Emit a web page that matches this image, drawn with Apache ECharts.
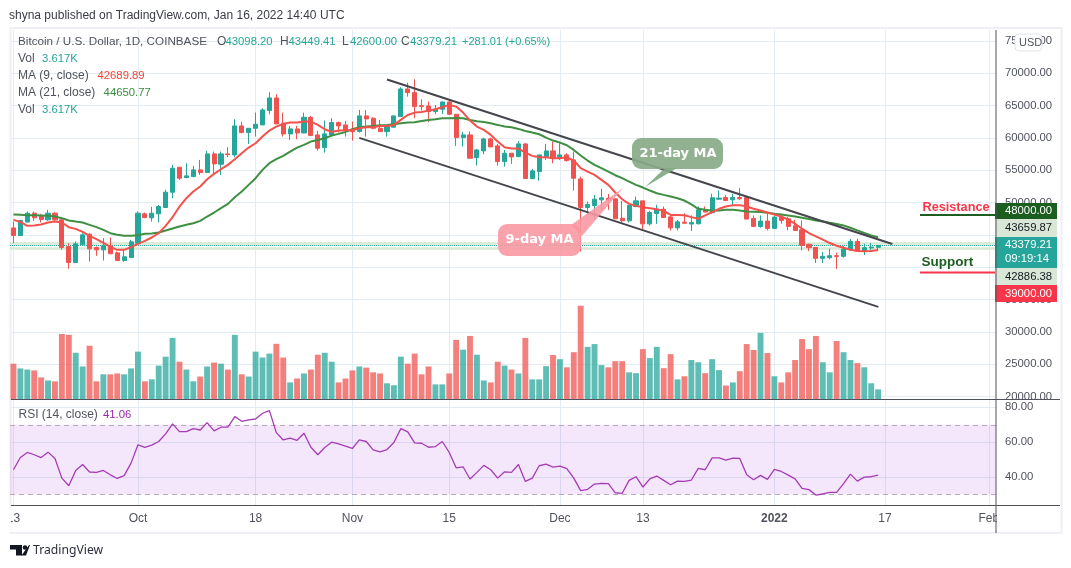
<!DOCTYPE html>
<html><head><meta charset="utf-8"><style>html,body{margin:0;padding:0;background:#fff}#c{width:1071px;height:568px}</style>
<script src="https://cdn.jsdelivr.net/npm/echarts@6/dist/echarts.min.js"></script></head><body><div id="c"></div><script>
const tickIdx=[0,18,35,49,63,79,91,110,126,141];
const tickText=['13','Oct','18','Nov','15','Dec','13','2022','17','Feb'];
const priceTicks=[20000,25000,30000,35000,40000,45000,50000,55000,60000,65000,70000,75000];
const rsiTicks=[40,60,80];
const opens=[46100,44920,47000,48370,47960,47340,48370,47340,43220,40750,43480,45125,43060,42700,43320,42240,41060,41520,
43735,48270,47650,48270,49250,51615,55475,53880,54035,55065,54650,57535,55940,57535,57380,61860,60830,61500,62020,64230,66190,62275,60630,61400,60780,63200,60470,58515,60470,62380,62020,
61350,60990,63410,63050,61500,60990,61660,63305,67580,67010,65000,64950,64080,64440,65570,63665,60060,60470,56970,58000,59855,58775,56350,57640,57125,59080,53730,54810,57125,58000,
56970,57380,56610,53675,49245,49555,50430,50690,50585,47600,47185,49400,50275,46720,48320,48990,47800,46105,46980,46700,46740,48900,48435,50540,50800,50440,50800,50800,47560,46325,47150,
46020,47765,47510,46430,45815,43550,43090,41390,41500,41800,41700,42730,44015,42525,42985,43098.2];
const closes=[44920,47240,48370,47650,47390,48370,47340,43060,40750,43630,45020,42860,42700,43320,42090,41060,41625,43940,
48370,47700,48370,49400,51615,55320,53780,54140,55065,54650,57535,55990,57535,57430,61860,60830,61500,62120,64335,66190,62170,60630,61400,60780,63200,60370,58410,60630,62380,61860,61245,
60990,63410,62945,61500,60990,61760,63410,67580,67010,64850,64850,64080,64440,65570,63665,60060,60470,56870,58155,59855,58620,56350,57640,57075,59080,53730,54910,57380,58000,56865,
57380,56505,53780,49245,49710,50535,50740,50430,47495,47185,49555,50275,46720,48475,48990,47700,46105,47030,46820,46950,48900,48540,50750,50700,50335,50800,50590,47460,46325,47150,46020,
47765,47250,46325,45710,43400,43040,41390,41700,41800,41700,42830,44015,42525,43040,43140,43379.21];
const highs=[47080,47340,48630,48630,48270,48885,48525,47495,43735,43990,45280,45280,43220,44510,44610,42450,42700,44250,
48630,48470,49350,49660,51975,55840,55475,56095,55680,56610,58000,57900,57900,58570,62890,62530,61500,63920,64590,67065,66755,63920,61860,61860,63920,63410,61090,62690,63050,62530,62635,
62530,64335,64335,63200,62790,62020,63410,67840,68560,69075,65980,65620,65110,65620,65980,63665,60935,60990,58310,60060,60060,59080,58155,57640,59495,59185,55220,57380,59080,59440,
59185,57640,57900,54035,50170,51200,52130,51355,50690,50275,49660,50945,50275,48730,49660,49400,48010,47340,48370,48020,49410,49410,51365,51880,51210,51365,52240,50955,48020,48020,48540,
48020,48125,47765,47355,47250,43655,43140,42370,42885,42270,43295,44375,44425,43655,43760,43449.41];
const lows=[43735,44920,46930,47190,46930,47190,47080,42700,39770,40750,43375,40900,41780,41060,42090,41060,40850,41420,
43630,47600,47080,46930,49250,50690,53520,53780,53930,54290,54650,54290,54290,57020,57020,60730,59080,60215,62020,63665,62170,60215,59700,59800,60730,60370,58050,57740,60370,60830,60215,
59600,60830,60215,61350,60990,60215,61660,63305,66395,63050,64230,62430,63665,63720,63560,58775,58670,56870,55735,57485,58620,55735,55580,55990,57020,53730,53620,53420,56610,56095,
56610,56350,51870,42450,48060,47440,48885,48885,47495,46930,46930,49300,45900,46465,46720,47700,45690,45690,46720,45610,46635,48540,48280,50440,50230,49410,50440,47460,46225,46120,45710,
46020,46740,45710,45610,42625,42525,40670,40670,41240,39750,41495,42525,42370,41905,42625,42600];
const ma9=[47340,47030,46415,46465,46620,46930,47080,46930,46210,45950,45485,44870,44350,43790,43170,42705,42705,43115,
43630,44095,44610,45280,46415,47750,49400,50690,51715,52490,53620,54450,55170,55840,56715,57640,58515,59185,60215,61140,61760,62170,62380,62380,62530,62530,62020,61350,60935,61140,61190,
61245,61500,61660,61660,61865,61865,62020,62790,63560,63920,64025,64230,64440,64750,65110,64850,63920,62690,61760,61245,60475,59440,58570,58360,58360,57745,57230,57020,57020,56870,
56870,57020,56510,55330,54810,54290,53520,52750,51565,50530,49810,49500,49300,49145,48990,48730,48110,48110,48060,47765,47510,48025,48540,49050,49410,49615,49615,49410,49050,48795,48485,
48180,47870,47355,46740,45970,45300,44785,44270,43755,43345,43040,42730,42525,42470,42525,42689.89];
const ma21=[48165,48115,48060,48060,48010,47960,47855,47600,47235,47080,46930,46570,46210,45795,45280,45025,44870,44870,
44970,45180,45230,45385,45690,46000,46310,46570,46825,47185,47855,48475,49140,49810,50840,51715,52750,53780,55065,56095,56715,57230,57900,58515,58930,59445,59700,59960,60370,60630,60935,
61350,61660,61760,61865,61965,62020,62120,62275,62380,62430,62635,62790,62890,63050,63050,63100,63050,62790,62585,62480,62275,62020,61760,61660,61400,61090,60835,60575,60060,59600,
59290,58875,58155,57280,56510,55840,55330,54810,54240,53780,53265,52750,52335,51870,51460,51200,50945,50690,50330,49720,49050,48900,48740,48795,48900,48900,48795,48640,48590,48540,48435,
48280,48180,48025,47870,47665,47460,47250,47100,46890,46690,46480,46120,45710,45300,44940,44650.77];
const volumes=[12.8,11.1,10.7,10.4,7.9,6.8,6.5,23.4,23.1,16.7,11.8,19.2,6.5,9,9,9.3,9,11.1,
17.1,6.5,7.2,12.1,15.3,22,13.5,10.7,6.5,8.2,11.8,13.2,12.8,10.7,23.1,9,8.2,17.1,15,16.4,19.9,15,6.1,7.5,9.3,10.7,16,16.7,13.5,6.1,7.5,
10.4,11.8,11.4,9.7,9.3,5.8,5.1,15.3,12.8,16.4,9,11.8,5.4,5.4,9.3,21.3,17.8,22.7,16,6.8,6.1,13.5,12.1,10.7,9.3,22,7.2,7.2,11.9,15.9,
14.4,11.5,16.9,33.5,18.8,19.8,12.3,11.5,13.7,13.7,9.7,9.4,18,14.8,18.8,11.2,16.2,7.2,8.3,14.1,13.3,9.4,14.4,10.5,5,6.1,10.1,19.8,17.7,23.8,16.6,
8.3,6.1,9.7,14.1,21.6,18,22.7,13.3,9.7,20.9,16.9,14.1,13,11.5,5.8,3.617];
const rsi=[44.2,51.2,54.1,52.8,51.2,54.3,50.7,39.4,35,43.8,47.2,42.9,42.7,43.8,41.3,39.2,40.8,48,
58.5,57,58.3,60.4,64.8,70.5,66.1,66.1,67.8,67,71.2,66.5,68.6,68.6,74.7,72,72.8,73.3,76.6,78.1,65.5,61.3,62.3,61.1,65.1,57.1,52.8,57,60,59,57.7,
56.4,61.3,60.4,55.6,54.5,55.8,59.8,67.8,65.9,59.6,59.4,57.1,57.5,60.4,54.1,45.3,45.9,38.9,42.7,46.7,44.2,39.4,43,42.7,47.2,37.5,39.4,46.5,47.4,45.7,
46.3,44.8,39.4,32.2,33,36,36.4,36.2,31,30.7,38.1,40.2,34.3,39,40.6,38.1,35.6,37.7,37.5,38.3,45,44.2,51,51,49.7,50.9,50.7,41.3,38.5,41,38.7,
44.4,43.2,41.1,39,33.5,32.8,29.7,30.3,31.2,31.2,36.2,41.7,37.7,40,40.2,41.06];
const upperChannel=[[54,69030],[127.05,43610]];
const lowerChannel=[[50,60020],[125.03,33890]];
const lastPrice=43379.21, bidLine=43659.87, askLine=42886.38;

const UP='#26a69a',DOWN='#ef5350',GRID='#e3ecf2',AXIS='#50535e',TXT='#50535e';
const FONT='"Liberation Sans"';
const NUM='11.3px '+FONT;
const pair=a=>a.map((v,i)=>[i,v]);
const candle=closes.map((c,i)=>[i,opens[i],c,lows[i],highs[i]]);
const volBars=volumes.map((v,i)=>({value:[i,v],itemStyle:{color:closes[i]>=opens[i]?'rgba(38,166,154,0.74)':'rgba(239,83,80,0.74)'}}));
const xBase=(g,lab)=>({type:'value',gridIndex:g,min:-0.5,max:142.04,
  axisLine:{show:false},axisTick:{show:false,customValues:tickIdx},
  splitLine:{show:true,lineStyle:{color:GRID,width:1}},
  axisLabel:lab?{show:true,customValues:tickIdx,color:TXT,fontSize:12,fontFamily:FONT,margin:7,
    formatter:v=>{const t=tickText[tickIdx.indexOf(v)];return t==='2022'?'{b|2022}':t;},
    rich:{b:{fontWeight:'bold',fontSize:12,color:TXT,fontFamily:FONT}}}:{show:false}});
const t=(x,y,text,fill,opt={})=>({type:'text',z:120,x,y,silent:true,style:Object.assign({text,fill,font:'12px '+FONT,align:'left',verticalAlign:'middle'},opt)});
const n=(x,y,text,fill)=>t(x,y,text,fill,{font:NUM});
const r=(x,y,w,h,fill,extra={})=>({type:'rect',z:110,silent:true,shape:{x,y,width:w,height:h,r:extra.r||0},style:{fill,stroke:extra.stroke||null,lineWidth:extra.stroke?1:0}});
const hl=(x1,y1,x2,y2,c,w=1)=>({type:'line',z:115,silent:true,shape:{x1,y1,x2,y2},style:{stroke:c,lineWidth:w}});
const poly=(pts,fill)=>({type:'polygon',z:112,silent:true,shape:{points:pts},style:{fill}});
const chrome=[
 {type:'rect',z:0,silent:true,shape:{x:10.5,y:28,width:1051,height:505},style:{fill:null,stroke:'#eef0f5',lineWidth:2}},
 r(0,508,11,24,'#fff'), r(997,508,63,24,'#fff'),
 hl(996,30,996,533,AXIS), hl(11,399.5,1060,399.5,AXIS), hl(11,505.5,1060,505.5,AXIS),
 t(9,15.5,'shyna published on TradingView.com, Jan 16, 2022 14:40 UTC','#3a3d46',{font:'12px '+FONT}),
 t(18,41.5,'Bitcoin / U.S. Dollar, 1D, COINBASE',TXT,{font:'11.7px '+FONT}),
 t(217,41.5,'O',TXT),n(225.5,41.5,'43098.20',UP),
 t(280,41.5,'H',TXT),n(288.5,41.5,'43449.41',UP),
 t(342,41.5,'L',TXT),n(350,41.5,'42600.00',UP),
 t(401,41.5,'C',TXT),n(410,41.5,'43379.21',UP),
 t(462,41.5,'+281.01 (+0.65%)',UP,{font:'11px '+FONT}),
 t(18,59,'Vol',TXT),n(42,59,'3.617K',UP),
 t(18,76,'MA (9, close)',TXT),n(97.5,76,'42689.89','#f44336'),
 t(18,93,'MA (21, close)',TXT),n(103.6,93,'44650.77','#388e3c'),
 t(18,110,'Vol',TXT),n(42,110,'3.617K',UP),
 t(18.5,415,'RSI (14, close)',TXT),n(103,415,'41.06','#9c27b0'),
 r(1015,34,27,17,'#fff',{r:4,stroke:'#e0e3eb'}), t(1019,43,'USD',TXT,{font:'11px '+FONT}),
 r(995,203,62,16,'#1b5e20'), n(1005,211,'48000.00','#fff'),
 r(995,219,62,18,'#d9e8d6'), n(1005,228,'43659.87','#131722'),
 r(995,237,62,31,UP), n(1005,245,'43379.21','#fff'), n(1005,259,'09:19:14','#fff'),
 r(995,268,62,17,'#d9e8d6'), n(1005,277,'42886.38','#131722'),
 r(995,285,62,17,'#f7364a'), n(1005,293.5,'39000.00','#fff'),
 t(922.5,207.5,'Resistance','#f7364a',{font:'bold 12.7px '+FONT}), hl(920,215,995,215,'#1b5e20',2),
 t(921.5,262.5,'Support','#1b5e20',{font:'bold 13.5px '+FONT}), hl(920,272.5,995,272.5,'#f7364a',2),
 poly([[665,168],[677,168],[645,187]],'rgba(130,168,130,0.92)'),
 r(632,138,91,31,'rgba(136,170,136,0.92)',{r:9}),
 t(678,153.5,'21-day MA','#fff',{font:'bold 13px "DejaVu Sans"',align:'center'}),
 poly([[571,225],[582,236],[623,188]],'rgba(249,150,160,0.88)'),
 r(498,224,83,32,'rgba(249,150,160,0.88)',{r:9}),
 t(539.5,239.5,'9-day MA','#fff',{font:'bold 13px "DejaVu Sans"',align:'center'}),
 poly([[10,545],[22,545],[22,555.5],[16,555.5],[16,549.5],[10,549.5]],'#131722'),
 {type:'circle',z:112,silent:true,shape:{cx:25,cy:547.5,r:2.3},style:{fill:'#131722'}},
 poly([[29,545],[30,545],[26,555.5],[21.5,555.5]],'#131722'),
 t(33,551,'TradingView','#2a2e39',{font:'12.2px "Noto Sans"'})
];
const chart=echarts.init(document.getElementById('c'));
chart.setOption({animation:false,backgroundColor:'#fff',
 grid:[{left:10,top:30,width:986,height:369.5},{left:10,top:400,width:986,height:105.5}],
 xAxis:[xBase(0,false),xBase(1,true)],
 yAxis:[
  {type:'value',gridIndex:0,position:'right',min:19567,max:76692,
   axisLine:{show:false},axisTick:{show:false,customValues:priceTicks},
   splitLine:{show:true,lineStyle:{color:GRID}},
   axisLabel:{customValues:priceTicks,color:TXT,fontSize:11.3,fontFamily:FONT,margin:9,formatter:v=>v.toFixed(2)}},
  {type:'value',gridIndex:0,position:'left',min:0,max:132,show:false,splitLine:{show:false}},
  {type:'value',gridIndex:1,position:'right',min:23.7,max:84.2,
   axisLine:{show:false},axisTick:{show:false,customValues:rsiTicks},
   splitLine:{show:true,lineStyle:{color:GRID}},
   axisLabel:{customValues:rsiTicks,color:TXT,fontSize:11.3,fontFamily:FONT,margin:9,formatter:v=>v.toFixed(2)}}
 ],
 series:[
  {type:'bar',name:'Vol',xAxisIndex:0,yAxisIndex:1,data:volBars,barWidth:5.9,z:1,silent:true},
  {type:'candlestick',name:'BTCUSD',xAxisIndex:0,yAxisIndex:0,data:candle,barWidth:4.6,z:3,silent:true,
   itemStyle:{color:UP,color0:DOWN,borderColor:UP,borderColor0:DOWN,borderWidth:1},
   markLine:{silent:true,symbol:'none',z:2,label:{show:false},data:[
    {yAxis:bidLine,lineStyle:{color:'#d9e8d6',width:2.5,type:'solid'}},
    {yAxis:askLine,lineStyle:{color:'#d9e8d6',width:2.5,type:'solid'}},
    {yAxis:lastPrice,lineStyle:{color:UP,width:1,type:'dotted'}}]}},
  {type:'line',name:'MA 21',xAxisIndex:0,yAxisIndex:0,data:pair(ma21),symbol:'none',z:4,silent:true,lineStyle:{color:'#3f8f42',width:2}},
  {type:'line',name:'MA 9',xAxisIndex:0,yAxisIndex:0,data:pair(ma9),symbol:'none',z:5,silent:true,lineStyle:{color:'#f4514c',width:2}},
  {type:'line',name:'Upper channel',xAxisIndex:0,yAxisIndex:0,data:upperChannel,symbol:'none',z:6,silent:true,lineStyle:{color:'#45464d',width:2}},
  {type:'line',name:'Lower channel',xAxisIndex:0,yAxisIndex:0,data:lowerChannel,symbol:'none',z:6,silent:true,lineStyle:{color:'#45464d',width:2}},
  {type:'line',name:'RSI',xAxisIndex:1,yAxisIndex:2,data:pair(rsi),symbol:'none',z:5,silent:true,lineStyle:{color:'#a63bb5',width:1.3},
   markArea:{silent:true,z:1,itemStyle:{color:'rgba(156,39,220,0.11)'},data:[[{yAxis:30},{yAxis:70}]]},
   markLine:{silent:true,symbol:'none',z:2,label:{show:false},lineStyle:{color:'#b9a9bd',width:1,type:[5,4]},data:[{yAxis:70},{yAxis:30}]}}
 ],
 graphic:{elements:chrome}
});
</script></body></html>
